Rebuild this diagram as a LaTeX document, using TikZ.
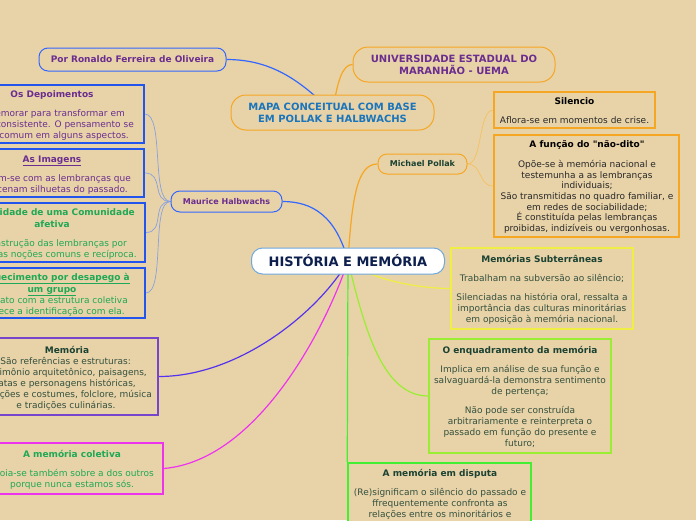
\documentclass[tikz,border=0pt]{standalone}
\usepackage{fontspec}
\setmainfont{DejaVu Sans}
\usetikzlibrary{backgrounds}
\definecolor{bgc}{RGB}{232,211,168}
\definecolor{blueL}{RGB}{51,102,255}
\definecolor{blueB}{RGB}{34,85,238}
\definecolor{blueT}{RGB}{136,160,224}
\definecolor{orangeL}{RGB}{245,166,35}
\definecolor{orangeT}{RGB}{245,192,96}
\definecolor{purpT}{RGB}{107,45,143}
\definecolor{mapaT}{RGB}{26,117,188}
\definecolor{dgreen}{RGB}{27,66,50}
\definecolor{bodyG}{RGB}{52,80,62}
\definecolor{greenT}{RGB}{31,168,85}
\definecolor{yel}{RGB}{238,238,68}
\definecolor{lgreen}{RGB}{153,238,51}
\definecolor{bgreen}{RGB}{68,238,51}
\definecolor{violetL}{RGB}{85,51,238}
\definecolor{purpB}{RGB}{119,68,204}
\definecolor{magL}{RGB}{238,51,238}
\definecolor{hmBorder}{RGB}{111,168,220}
\definecolor{hmText}{RGB}{13,31,77}
\definecolor{bodyK}{RGB}{40,40,40}
\begin{document}
\begin{tikzpicture}[x=1pt,y=-1pt,
  topic/.style={draw, fill=bgc, rounded corners=9pt, line width=1pt, inner sep=0pt, font=\fontsize{8}{10}\selectfont\bfseries},
  box/.style={draw, fill=bgc, line width=1.5pt, inner sep=0pt},
  txt/.style={anchor=base, inner sep=0pt, font=\fontsize{9}{11}\selectfont},
  ttl/.style={txt, font=\fontsize{9}{11}\selectfont\bfseries},
  link/.style={line width=1.2pt},
  twig/.style={line width=0.7pt}]

\useasboundingbox (0,0) rectangle (696,520);
\clip (0,0) rectangle (696,520);

% topics:
\node[topic, draw=hmBorder, fill=white, text=hmText, minimum width=193, minimum height=26, rounded corners=11pt, font=\fontsize{13}{15}\selectfont\bfseries] (hm) at (348,261) {HISTÓRIA E MEMÓRIA};
\node[topic, draw=blueL, text=purpT, minimum width=187, minimum height=23, font=\fontsize{9}{11}\selectfont\bfseries] (ronaldo) at (132.5,59.5) {Por Ronaldo Ferreira de Oliveira};
\node[topic, draw=orangeL, text=mapaT, align=center, minimum width=203, minimum height=35, rounded corners=15pt, font=\fontsize{10}{12}\selectfont\bfseries] (mapa) at (332.5,112.5) {MAPA CONCEITUAL COM BASE\\EM POLLAK E HALBWACHS};
\node[topic, draw=orangeL, text=purpT, align=center, minimum width=202, minimum height=35, rounded corners=15pt, font=\fontsize{10}{12}\selectfont\bfseries] (uema) at (454,64.5) {UNIVERSIDADE ESTADUAL DO\\MARANHÃO - UEMA};
\node[topic, draw=orangeL, text=dgreen, minimum width=89, minimum height=20] (pollak) at (422.5,164) {Michael Pollak};
\node[topic, draw=blueL, text=purpT, minimum width=111, minimum height=21] (maurice) at (226.5,201.5) {Maurice Halbwachs};

% boxes:
\node[box, draw=blueB, minimum width=184, minimum height=58] (depo) at (52,114) {};
\node[box, draw=blueB, minimum width=184, minimum height=48] (imag) at (52,173) {};
\node[box, draw=blueB, minimum width=186, minimum height=59] (comu) at (52,232.5) {};
\node[box, draw=blueB, minimum width=186, minimum height=50] (esqu) at (52,293) {};
\node[box, draw=purpB, minimum width=182, minimum height=77] (memo) at (67,376.5) {};
\node[box, draw=magL, minimum width=182, minimum height=51] (colet) at (72,468.5) {};
\node[box, draw=orangeL, minimum width=161, minimum height=36] (silen) at (574.5,110) {};
\node[box, draw=orangeL, minimum width=185, minimum height=102] (funcao) at (586.5,186) {};
\node[box, draw=yel, minimum width=182, minimum height=81] (subter) at (542,288.5) {};
\node[box, draw=lgreen, minimum width=182, minimum height=114] (enqua) at (520,396) {};
\node[box, draw=bgreen, minimum width=183, minimum height=80, anchor=north] (disp) at (439.5,462) {};

% connectors:
\begin{pgfonlayer}{background}
\fill[bgc] (0,0) rectangle (696,520);
\draw[link, draw=blueL] (ronaldo.east) .. controls +(45,0) and +(-32,-32) .. (mapa.center);
\draw[link, draw=orangeL] (mapa.center) .. controls +(5,-32) and +(-10,0) .. (uema.west);
\draw[link, draw=orangeL] (hm.center) .. controls +(4,-65) and +(-20,0) .. (pollak.west);
\draw[link, draw=blueL] (hm.center) .. controls +(-12,-45) and +(30,0) .. (maurice.east);
\draw[link, draw=yel] (hm.center) .. controls +(22,19) and +(-30,0) .. (subter.west);
\draw[link, draw=lgreen] (hm.center) .. controls +(17,70) and +(-45,0) .. (enqua.west);
\draw[link, draw=bgreen] (hm.center) -- (disp.north west);
\draw[link, draw=violetL] (hm.center) .. controls +(-28,49) and +(82,0) .. (memo.east);
\draw[link, draw=magL] (hm.center) .. controls +(-23,69) and +(93,-8) .. (colet.east);
\draw[twig, draw=blueT] (maurice.west) .. controls +(-20,0) and +(20,0) .. (depo.east);
\draw[twig, draw=blueT] (maurice.west) .. controls +(-20,0) and +(20,0) .. (imag.east);
\draw[twig, draw=blueT] (maurice.west) .. controls +(-20,0) and +(20,0) .. (comu.east);
\draw[twig, draw=blueT] (maurice.west) .. controls +(-20,0) and +(20,0) .. (esqu.east);
\draw[twig, draw=orangeT] (pollak.east) .. controls +(15,0) and +(-15,0) .. (silen.west);
\draw[twig, draw=orangeT] (pollak.east) .. controls +(15,0) and +(-15,0) .. (funcao.west);
\end{pgfonlayer}

% texts, left:
\node[ttl, text=purpT] (depoA) at (52,97) {Os Depoimentos};
\node[txt, text=purpT, anchor=base east] (depoB) at (125,116) {emorar para transformar em};
\node[txt, text=purpT, anchor=base east] (depoC) at (134,127) {consistente. O pensamento se};
\node[txt, text=purpT, anchor=base east] (depoD) at (129,138) {comum em alguns aspectos.};
\node[ttl, text=purpT] (imagA) at (52,162) {\underline{As Imagens}};
\node[txt, text=purpT, anchor=base east] (imagB) at (131,181) {m-se com as lembranças que};
\node[txt, text=purpT, anchor=base east] (imagC) at (128,192) {cenam silhuetas do passado.};
\node[ttl, text=greenT, anchor=base east] (comuA) at (135,215) {idade de uma Comunidade};
\node[ttl, text=greenT] (comuB) at (52,227) {afetiva};
\node[txt, text=greenT, anchor=base east] (comuC) at (127,246) {astrução das lembranças por};
\node[txt, text=greenT, anchor=base east] (comuD) at (137,257) {as noções comuns e recíproca.};
\node[ttl, text=greenT, anchor=base east] (esquA) at (130,280) {\underline{uecimento por desapego à}};
\node[ttl, text=greenT] (esquB) at (52,292) {\underline{um grupo}};
\node[txt, text=greenT, anchor=base east] (esquC) at (128,303) {tato com a estrutura coletiva};
\node[txt, text=greenT, anchor=base east] (esquD) at (125,314) {rece a identificação com ela.};
\node[ttl, text=dgreen] (memoA) at (67,353) {Memória};
\node[txt, text=bodyG, anchor=base east] (memoB) at (131,364) {São referências e estruturas:};
\node[txt, text=bodyG, anchor=base east] (memoC) at (147,375) {rimônio arquitetônico, paisagens,};
\node[txt, text=bodyG, anchor=base east] (memoD) at (136,386) {atas e personagens históricas,};
\node[txt, text=bodyG, anchor=base east] (memoE) at (152,397) {ções e costumes, folclore, música};
\node[txt, text=bodyG] (memoF) at (66,408) {e tradições culinárias.};
\node[ttl, text=greenT] (coletA) at (72,457) {A memória coletiva};
\node[txt, text=greenT, anchor=base east] (coletB) at (154,476) {oia-se também sobre a dos outros};
\node[txt, text=greenT] (coletC) at (72,487) {porque nunca estamos sós.};

% texts, right:
\node[ttl] (silenA) at (574.5,104) {Silencio};
\node[txt, text=bodyK] (silenB) at (574.5,123) {Aflora-se em momentos de crise.};
\node[ttl] (funcaoA) at (587,147) {A função do \textquotedbl não-dito\textquotedbl};
\node[txt, text=bodyK] (funcaoB) at (587,167) {Opõe-se à memória nacional e};
\node[txt, text=bodyK] (funcaoC) at (587,178) {testemunha a as lembranças};
\node[txt, text=bodyK] (funcaoD) at (587,188) {individuais;};
\node[txt, text=bodyK] (funcaoE) at (587,199) {São transmitidas no quadro familiar, e};
\node[txt, text=bodyK] (funcaoF) at (587,210) {em redes de sociabilidade;};
\node[txt, text=bodyK] (funcaoG) at (587,220) {É constituída pelas lembranças};
\node[txt, text=bodyK] (funcaoH) at (587,231) {proibidas, indizíveis ou vergonhosas.};
\node[ttl, text=dgreen] (subterA) at (542,262) {Memórias Subterrâneas};
\node[txt, text=bodyG] (subterB) at (542,281) {Trabalham na subversão ao silêncio;};
\node[txt, text=bodyG] (subterC) at (542,300) {Silenciadas na história oral, ressalta a};
\node[txt, text=bodyG] (subterD) at (542,311) {importância das culturas minoritárias};
\node[txt, text=bodyG] (subterE) at (542,322) {em oposição à memória nacional.};
\node[ttl, text=dgreen] (enquaA) at (520,353) {O enquadramento da memória};
\node[txt, text=bodyG] (enquaB) at (520,372) {Implica em análise de sua função e};
\node[txt, text=bodyG] (enquaC) at (520,383) {salvaguardá-la demonstra sentimento};
\node[txt, text=bodyG] (enquaD) at (520,394) {de pertença;};
\node[txt, text=bodyG] (enquaE) at (520,413) {Não pode ser construída};
\node[txt, text=bodyG] (enquaF) at (520,424) {arbitrariamente e reinterpreta o};
\node[txt, text=bodyG] (enquaG) at (520,435) {passado em função do presente e};
\node[txt, text=bodyG] (enquaH) at (520,446) {futuro;};
\node[ttl, text=dgreen] (dispA) at (440,476) {A memória em disputa};
\node[txt, text=bodyG] (dispB) at (440,495) {(Re)significam o silêncio do passado e};
\node[txt, text=bodyG] (dispC) at (440,506) {ffrequentemente confronta as};
\node[txt, text=bodyG] (dispD) at (440,517) {relações entre os minoritários e};

\end{tikzpicture}
\end{document}
